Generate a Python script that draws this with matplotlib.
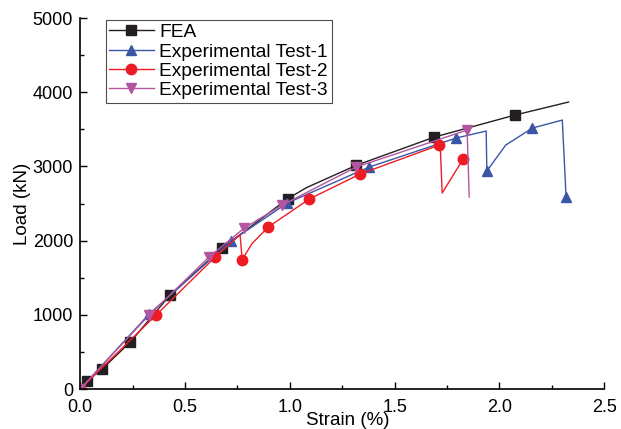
import matplotlib

matplotlib.use("Agg")
import matplotlib.pyplot as plt
from matplotlib.ticker import MultipleLocator

plt.rcParams.update({
    "font.family": ["Liberation Sans", "DejaVu Sans"],
    "font.size": 13,
    "xtick.direction": "in",
    "ytick.direction": "in",
})

# strain (%) / load (kN)
fea_x = [0, 0.032, 0.105, 0.239, 0.429, 0.678, 0.99, 1.08, 1.317, 1.69, 2.075, 2.33]
fea_y = [0, 108, 270, 633, 1267, 1900, 2565, 2715, 3015, 3396, 3693, 3868]
fea_marks = [1, 2, 3, 4, 5, 6, 8, 9, 10]

t1_x = [0, 0.329, 0.72, 0.988, 1.379, 1.794, 1.937, 1.94, 2.03, 2.157, 2.30, 2.318]
t1_y = [0, 1010, 1995, 2507, 2992, 3383, 3477, 2938, 3288, 3517, 3625, 2588]
t1_marks = [0, 1, 2, 3, 4, 5, 7, 9, 11]

t2_x = [0, 0.362, 0.644, 0.763, 0.773, 0.82, 0.897, 1.093, 1.336, 1.713, 1.717, 1.727, 1.827]
t2_y = [0, 997, 1779, 2080, 1745, 1960, 2183, 2561, 2898, 3288, 3329, 2642, 3100]
t2_marks = [0, 1, 2, 4, 6, 7, 8, 9, 12]

t3_x = [0, 0.329, 0.615, 0.783, 0.964, 1.317, 1.846, 1.856]
t3_y = [0, 997, 1779, 2170, 2480, 2992, 3490, 2588]
t3_marks = [0, 1, 2, 3, 4, 5, 6]

fig = plt.figure(figsize=(6.21, 4.29), dpi=100)
ax = fig.add_axes([0.129, 0.093, 0.844, 0.865])

ax.plot(fea_x, fea_y, color="#231f20", lw=1.0, marker="s", ms=6.5,
        markevery=fea_marks, label="FEA")
ax.plot(t1_x, t1_y, color="#3a56a5", lw=1.0, marker="^", ms=7.5,
        markevery=t1_marks, label="Experimental Test-1")
ax.plot(t2_x, t2_y, color="#ed1c24", lw=1.0, marker="o", ms=7.5,
        markevery=t2_marks, label="Experimental Test-2")
ax.plot(t3_x, t3_y, color="#b455a0", lw=1.0, marker="v", ms=7.5,
        markevery=t3_marks, label="Experimental Test-3")

ax.set_xlim(0, 2.5)
ax.set_ylim(0, 5000)
ax.xaxis.set_major_locator(MultipleLocator(0.5))
ax.xaxis.set_minor_locator(MultipleLocator(0.25))
ax.yaxis.set_major_locator(MultipleLocator(1000))
ax.yaxis.set_minor_locator(MultipleLocator(500))
ax.tick_params(which="major", length=5, width=1, labelsize=13)
ax.tick_params(axis="x", which="major", pad=7)
ax.tick_params(axis="y", which="major", pad=5)
ax.tick_params(which="minor", length=3, width=1)
ax.spines[["top", "right"]].set_visible(False)
ax.spines[["left", "bottom"]].set_linewidth(1.2)

ax.set_xlabel("Strain (%)", fontsize=13.5, labelpad=-2.5)
ax.xaxis.label.set_x(0.51)
ax.set_ylabel("Load (kN)", fontsize=13.5, labelpad=1)

leg = ax.legend(loc="upper left", bbox_to_anchor=(0.045, 1.0), frameon=True,
                fancybox=False, edgecolor="#231f20", handlelength=2.3,
                borderpad=0.2, labelspacing=0.1, handletextpad=0.3,
                borderaxespad=0.1, fontsize=13.8)
leg.get_frame().set_linewidth(0.8)

fig.savefig("out.png", dpi=100)
